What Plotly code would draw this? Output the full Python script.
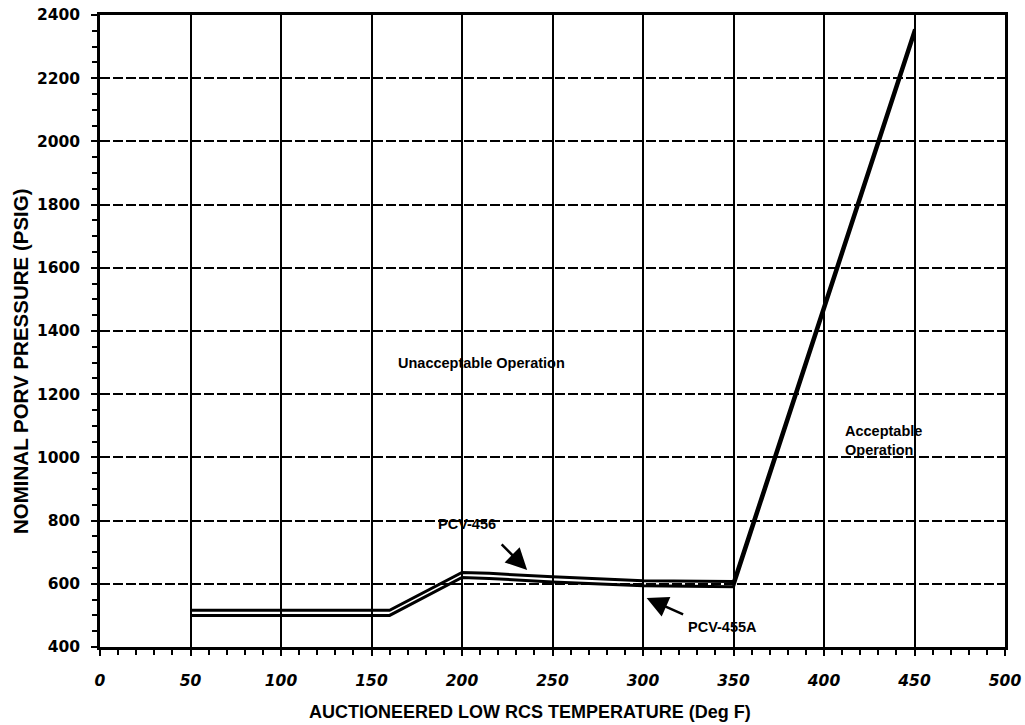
import plotly.graph_objects as go

# Data
temp_456 = [50, 160, 200, 215, 250, 300, 350, 450]
pres_456 = [516, 516, 636, 633, 622, 610, 607, 2355]
temp_455a = [50, 160, 200, 215, 250, 300, 350, 450]
pres_455a = [500, 500, 620, 617, 606, 594, 591, 2340]

x_ticks = [0, 50, 100, 150, 200, 250, 300, 350, 400, 450, 500]
y_ticks = [400, 600, 800, 1000, 1200, 1400, 1600, 1800, 2000, 2200, 2400]

ANN_FONT = dict(family="Liberation Sans, Arial", size=14.5, color="black", weight="bold")

fig = go.Figure()
fig.add_trace(go.Scatter(x=temp_456, y=pres_456, mode="lines", name="PCV-456",
                         line=dict(color="black", width=3), showlegend=False))
fig.add_trace(go.Scatter(x=temp_455a, y=pres_455a, mode="lines", name="PCV-455A",
                         line=dict(color="black", width=3), showlegend=False))

# Region labels
fig.add_annotation(x=211, y=1298, text="Unacceptable Operation", showarrow=False,
                   font=ANN_FONT, xanchor="center", yanchor="middle")
fig.add_annotation(x=410.5, y=1055, text="Acceptable<br>Operation", showarrow=False,
                   font=ANN_FONT, xanchor="left", yanchor="middle", align="left")

# Series labels
fig.add_annotation(x=202.5, y=789, text="PCV-456", showarrow=False,
                   font=ANN_FONT, xanchor="center", yanchor="middle")
fig.add_annotation(x=344, y=463, text="PCV-455A", showarrow=False,
                   font=ANN_FONT, xanchor="center", yanchor="middle")

# Arrows
fig.add_annotation(x=236, y=644, text="", showarrow=True, ax=-27, ay=-27,
                   arrowhead=2, arrowsize=1.7, arrowwidth=2.5, arrowcolor="black")
fig.add_annotation(x=302, y=555, text="", showarrow=True, ax=38, ay=17,
                   arrowhead=2, arrowsize=1.7, arrowwidth=2.5, arrowcolor="black")

# Axis titles as annotations
fig.add_annotation(xref="paper", yref="paper", x=(530 - 100) / 905, y=(647 - 712) / 632,
                   text="AUCTIONEERED LOW RCS TEMPERATURE (Deg F)", showarrow=False,
                   font=dict(family="Liberation Sans, Arial", size=18, color="black", weight="bold"),
                   xanchor="center", yanchor="middle")
fig.add_annotation(xref="paper", yref="paper", x=(20 - 100) / 905, y=(647 - 361) / 632,
                   text="NOMINAL PORV PRESSURE (PSIG)", showarrow=False, textangle=-90,
                   font=dict(family="Liberation Sans, Arial", size=20.5, color="black", weight="bold"),
                   xanchor="center", yanchor="middle")

fig.update_layout(
    width=1025, height=725,
    margin=dict(l=100, r=20, t=15, b=78, autoexpand=False),
    paper_bgcolor="white", plot_bgcolor="white",
    showlegend=False,
)
fig.update_xaxes(
    range=[0, 500], tickvals=x_ticks, ticktext=[str(v) for v in x_ticks],
    showgrid=True, gridcolor="black", gridwidth=2,
    showline=True, linecolor="black", linewidth=2.5, mirror=True,
    ticks="outside", ticklen=6, tickwidth=2, tickcolor="black",
    ticklabelstandoff=12,
    tickfont=dict(family="DejaVu Sans", size=15.5, color="black", weight="bold", style="italic"),
    minor=dict(dtick=10, tick0=0, ticks="outside", ticklen=5, tickwidth=2, tickcolor="black", showgrid=False),
    zeroline=False, automargin=False,
)
fig.update_yaxes(
    range=[400, 2400], tickvals=y_ticks, ticktext=[str(v) for v in y_ticks],
    showgrid=True, gridcolor="black", gridwidth=1.5, griddash="10px,3px",
    showline=True, linecolor="black", linewidth=2.5, mirror=True,
    ticks="outside", ticklen=6, tickwidth=2, tickcolor="black",
    ticklabelstandoff=8,
    tickfont=dict(family="DejaVu Sans", size=15.5, color="black", weight="bold"),
    minor=dict(dtick=50, tick0=400, ticks="outside", ticklen=5, tickwidth=2, tickcolor="black", showgrid=False),
    zeroline=False, automargin=False,
)

fig.write_html("out.html")
